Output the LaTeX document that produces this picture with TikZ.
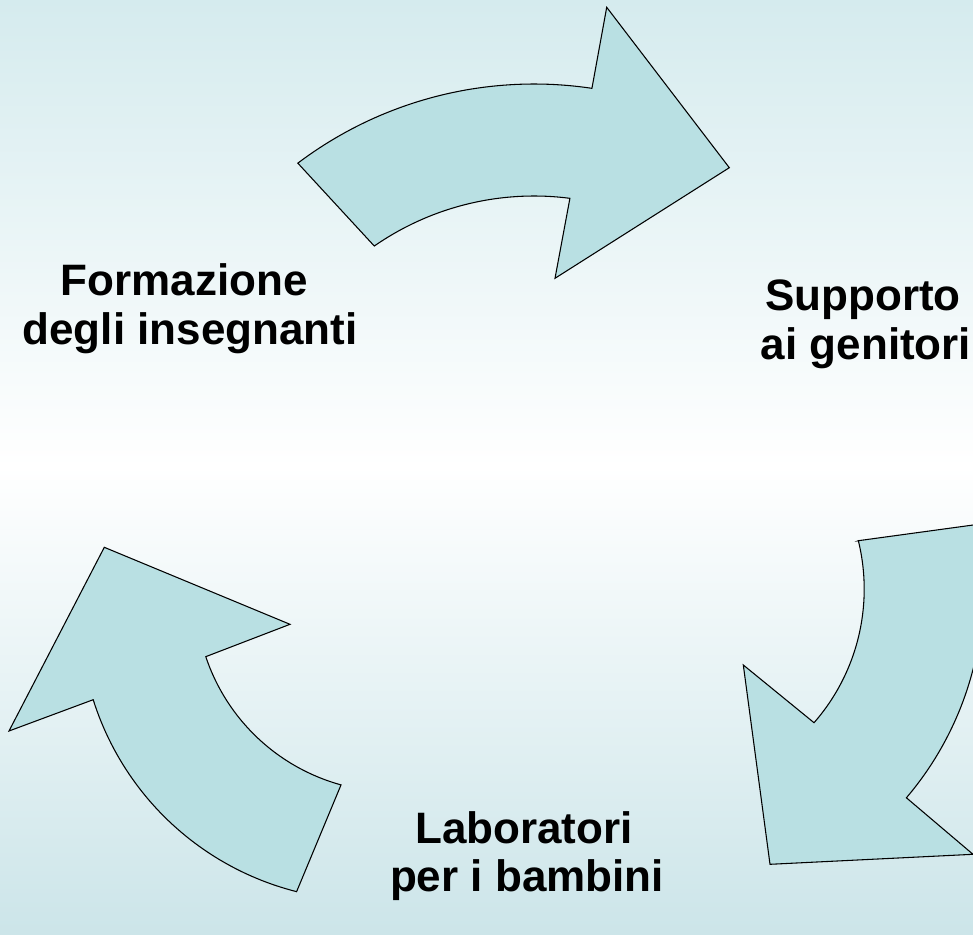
\documentclass[tikz,border=0pt]{standalone}
\usepackage{fontspec}
\setmainfont{Liberation Sans}
\definecolor{arrowfill}{RGB}{185,224,227}
\definecolor{bgtop}{RGB}{213,235,238}
\definecolor{bgbot}{RGB}{204,229,233}
\begin{document}
\begin{tikzpicture}[x=0.75pt,y=-0.75pt,
  arrowshape/.style={fill=arrowfill,draw=black,line width=0.8pt,line join=miter},
  txt/.style={font=\fontsize{33}{39}\selectfont\bfseries,anchor=base,inner sep=0pt}]
\useasboundingbox (0,0) rectangle (973,934);
\begin{scope}[y=0.75pt]
\shade[top color=bgtop,bottom color=white] (0,-467) rectangle (973,0);
\shade[top color=white,bottom color=bgbot] (0,-934) rectangle (973,-466);
\end{scope}
\begin{scope}
\clip (0,0) rectangle (973,934);
% top arrow
\draw[arrowshape] plot[domain=-127.05:-81.5,samples=50,variable=\t] ({534+392*cos(\t)},{476+392*sin(\t)})
  -- (606.7,7.3) -- (729.3,167.7) -- (555,278.3)
  -- plot[domain=-82.63:-124.78,samples=50,variable=\t] ({534+280*cos(\t)},{476+280*sin(\t)}) -- cycle;
% right arrow
\draw[arrowshape] (858.3,540.7) -- (976.8,524.5)
  -- plot[domain=-11.5:40.4,samples=50,variable=\t] ({661.2+322*cos(\t)},{589.1+322*sin(\t)})
  -- (973,854.3) -- (770,864.3) -- (743.3,665)
  -- plot[domain=41.16:-13.8,samples=50,variable=\t] ({661.2+203*cos(\t)},{589.1+203*sin(\t)}) -- cycle;
% left arrow
\draw[arrowshape] (104.3,547.3) -- (290,624.3)
  -- plot[domain=161.55:105.4,samples=50,variable=\t] ({393.6+198*cos(\t)},{594+198*sin(\t)})
  -- plot[domain=104.18:162.5,samples=50,variable=\t] ({366.9+287*cos(\t)},{613.4+287*sin(\t)})
  -- (9,731) -- cycle;
% labels
\node[txt] (f1) at (184,295) {Formazione};
\node[txt] (f2) at (190,344) {degli insegnanti};
\node[txt] (s1) at (863,310) {Supporto};
\node[txt] (s2) at (866,359) {ai genitori};
\node[txt] (l1) at (524,843) {Laboratori};
\node[txt] (l2) at (527,891) {per i bambini};
\end{scope}
\end{tikzpicture}
\end{document}
